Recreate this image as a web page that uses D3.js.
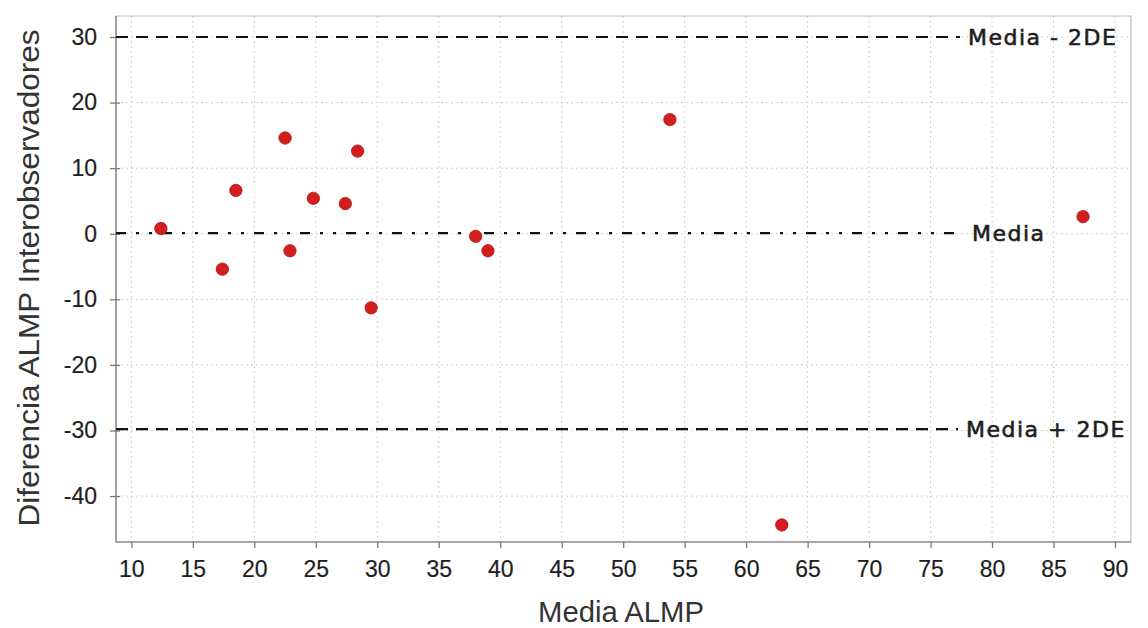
<!DOCTYPE html>
<html>
<head>
<meta charset="utf-8">
<script src="https://cdn.jsdelivr.net/npm/d3@7"></script>
<style>
  html, body { margin: 0; padding: 0; background: #fff; }
  svg { display: block; }
</style>
</head>
<body>
<svg id="chart" width="1148" height="628"></svg>
<script>
// Bland–Altman style data: mean of the two observers vs. their difference
const meanValues = [12.4, 17.4, 18.5, 22.5, 22.9, 24.8, 27.4, 28.4, 29.5, 38.0, 39.0, 53.8, 62.9, 87.4];
const diffValues = [0.8, -5.4, 6.6, 14.6, -2.6, 5.4, 4.6, 12.6, -11.3, -0.4, -2.6, 17.4, -44.4, 2.6];
const xTicks = [10, 15, 20, 25, 30, 35, 40, 45, 50, 55, 60, 65, 70, 75, 80, 85, 90];
const yTicks = [30, 20, 10, 0, -10, -20, -30, -40];
const refLines = [
  { value: 30.0, label: "Media - 2DE", dash: "12,8", labelX: 968 },
  { value: 0.1, label: "Media", dash: "10,10,3,10,3,10", labelX: 972 },
  { value: -29.8, label: "Media + 2DE", dash: "12,8", labelX: 966 }
];
const xTitle = "Media ALMP";
const yTitle = "Diferencia ALMP Interobservadores";

const svg = d3.select("#chart");
const plotLeft = 116, plotTop = 16, plotRight = 1131, plotBottom = 542;

const x = d3.scaleLinear().domain([8.75, 91.3]).range([plotLeft, plotRight]);
const y = d3.scaleLinear().domain([-47.0, 33.2]).range([plotBottom, plotTop]);

// grid
const grid = svg.append("g");
grid.selectAll("line.v").data(xTicks).join("line")
  .attr("class", "v")
  .attr("x1", d => x(d)).attr("x2", d => x(d))
  .attr("y1", plotTop).attr("y2", plotBottom)
  .attr("stroke", "#d2d2d2").attr("stroke-width", 1).attr("stroke-dasharray", "2,3");
grid.selectAll("line.h").data(yTicks).join("line")
  .attr("class", "h")
  .attr("x1", plotLeft).attr("x2", plotRight)
  .attr("y1", d => y(d)).attr("y2", d => y(d))
  .attr("stroke", "#d2d2d2").attr("stroke-width", 1).attr("stroke-dasharray", "2,3");

// frame (top and right)
svg.append("path")
  .attr("d", `M${plotLeft},${plotTop}H${plotRight}V${plotBottom}`)
  .attr("fill", "none").attr("stroke", "#bdbdbd").attr("stroke-width", 1.2);

// axes
const xAxis = d3.axisBottom(x).tickValues(xTicks).tickSize(6).tickPadding(13).tickFormat(d => String(d));
const yAxis = d3.axisLeft(y).tickValues(yTicks).tickSize(6).tickPadding(13).tickFormat(d => String(d));

const gx = svg.append("g").attr("transform", `translate(0,${plotBottom})`).call(xAxis);
const gy = svg.append("g").attr("transform", `translate(${plotLeft},0)`).call(yAxis);
[gx, gy].forEach(g => {
  g.select(".domain").attr("stroke", "#8a8a8a").attr("stroke-width", 1.6);
  g.selectAll(".tick line").attr("stroke", "#7a7a7a").attr("stroke-width", 1.3);
  g.selectAll(".tick text")
    .attr("fill", "#1e1e1e")
    .attr("stroke", "#1e1e1e").attr("stroke-width", 0.2)
    .style("font-family", "'Liberation Sans', Arial, sans-serif")
    .style("font-size", "23px");
});
gy.selectAll(".tick line").attr("x2", -6).attr("x1", 4);
gy.select(".domain").attr("d", `M0,${plotBottom}V${plotTop}`);
gx.select(".domain").attr("d", `M${plotLeft},0H${plotRight}`);

// reference lines with labels
const refs = svg.append("g");
refLines.forEach(r => {
  refs.append("line")
    .attr("x1", plotLeft).attr("x2", r.labelX - 8)
    .attr("y1", y(r.value)).attr("y2", y(r.value))
    .attr("stroke", "#111").attr("stroke-width", 2.2)
    .attr("stroke-dasharray", r.dash);
  refs.append("text")
    .attr("x", r.labelX).attr("y", y(r.value))
    .attr("dy", "0.36em")
    .attr("fill", "#1e1e1e")
    .attr("stroke", "#1e1e1e").attr("stroke-width", 0.6)
    .style("font-family", "'DejaVu Sans', sans-serif")
    .style("font-size", "22px")
    .style("letter-spacing", "1.5px")
    .text(r.label);
});

// points
svg.append("g").selectAll("circle")
  .data(meanValues.map((m, i) => ({ m, d: diffValues[i] })))
  .join("circle")
  .attr("cx", d => x(d.m)).attr("cy", d => y(d.d))
  .attr("r", 6.2)
  .attr("fill", "#d41e1e")
  .attr("stroke", "#b01515").attr("stroke-width", 0.8);

// axis titles
svg.append("text")
  .attr("x", 621).attr("y", 622)
  .attr("text-anchor", "middle")
  .attr("fill", "#333")
  .attr("textLength", 166).attr("lengthAdjust", "spacingAndGlyphs")
  .style("font-family", "'Liberation Sans', Arial, sans-serif")
  .style("font-size", "30px")
  .text(xTitle);

svg.append("text")
  .attr("transform", `translate(39,278) rotate(-90)`)
  .attr("text-anchor", "middle")
  .attr("fill", "#333")
  .attr("textLength", 497).attr("lengthAdjust", "spacingAndGlyphs")
  .style("font-family", "'Liberation Sans', Arial, sans-serif")
  .style("font-size", "30px")
  .text(yTitle);
</script>
</body>
</html>
